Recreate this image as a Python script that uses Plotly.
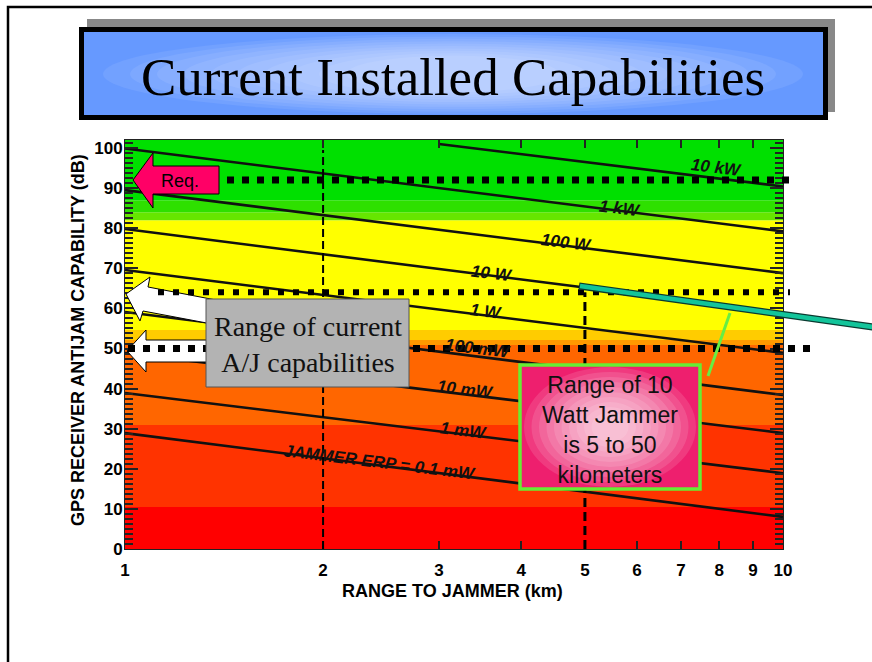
import plotly.graph_objects as go

# ---------------- data ----------------
line_names = ["10 kW", "1 kW", "100 W", "10 W", "1 W", "100 mW", "10 mW", "1 mW",
              "JAMMER ERP = 0.1 mW"]
start_km = [3, 1, 1, 1, 1, 1, 1, 1, 1]
end_km = [10, 10, 10, 10, 10, 10, 10, 10, 10]
start_db = [101.0, 99.9, 89.5, 79.8, 69.6, 59.1, 48.9, 38.9, 28.9]
end_db = [90.4, 79.2, 68.8, 58.9, 48.9, 38.4, 28.9, 18.9, 8.0]

x_ticks = [1, 2, 3, 4, 5, 6, 7, 8, 9, 10]
x_tick_labels = ["1", "2", "3", "4", "5", "6", "7", "8", "9", "10"]
y_ticks = [0, 10, 20, 30, 40, 50, 60, 70, 80, 90, 100]
y_tick_labels = ["0", "10", "20", "30", "40", "50", "60", "70", "80", "90", "100"]

band_lo = [0, 10.5, 30.9, 50.9, 52.1, 54.6, 82, 84, 87]
band_hi = [10.5, 30.9, 50.9, 52.1, 54.6, 82, 84, 87, 102]
band_colors = ["#ff0000", "#ff3300", "#ff6600", "#ff9900", "#ffcc00", "#ffff00",
               "#66e600", "#2ee000", "#00e000"]

required_db = 92
current_hi_db = 64
current_lo_db = 50
range_lo_km = 2
range_10w_km = 5

# ---------------- geometry helpers (pixel -> paper) ----------------
L, R, T, B = 125, 783, 140, 549
W, H = 872, 662


def px(x):
    return (x - L) / (R - L)


def py(y):
    return (B - y) / (B - T)


def path(points):
    s = "M " + " L ".join(f"{px(a):.5f},{py(b):.5f}" for a, b in points) + " Z"
    return s


fig = go.Figure()

for i in range(len(line_names)):
    fig.add_trace(go.Scatter(
        x=[start_km[i], end_km[i]], y=[start_db[i], end_db[i]],
        mode="lines", line=dict(color="#111111", width=2.6),
        name=line_names[i], showlegend=False, hoverinfo="skip"))

shapes = []
# colour bands
for lo, hi, c in zip(band_lo, band_hi, band_colors):
    shapes.append(dict(type="rect", xref="paper", yref="y", x0=0, x1=1, y0=lo, y1=hi,
                       fillcolor=c, line=dict(width=0), layer="below"))

# slide frame
shapes.append(dict(type="path", xref="paper", yref="paper",
                   path=f"M {px(8)},{py(700)} L {px(8)},{py(7)} L {px(900)},{py(7)}",
                   line=dict(color="black", width=2.5)))
# title shadow + box
shapes.append(dict(type="rect", xref="paper", yref="paper", x0=px(87), x1=px(835),
                   y0=py(19), y1=py(112), fillcolor="#888888", line=dict(width=0)))
shapes.append(dict(type="rect", xref="paper", yref="paper", x0=px(81.5), x1=px(825.5),
                   y0=py(29.5), y1=py(117.5), fillcolor="#6699ff",
                   line=dict(color="black", width=5)))
for k in range(10):
    hw = 350 - k * 27
    hh = 40 - k * 2.4
    shapes.append(dict(type="circle", xref="paper", yref="paper",
                       x0=px(453 - hw), x1=px(453 + hw), y0=py(74 - hh), y1=py(74 + hh),
                       fillcolor="white", opacity=0.08, line=dict(width=0)))

# vertical dashed lines
shapes.append(dict(type="line", xref="x", yref="y", x0=range_lo_km, x1=range_lo_km,
                   y0=0, y1=99.5, line=dict(color="black", width=2, dash="8px,4px")))
shapes.append(dict(type="line", xref="x", yref="y", x0=range_10w_km, x1=range_10w_km,
                   y0=0, y1=current_hi_db, line=dict(color="black", width=3, dash="9px,5px")))

# white arrows
shapes.append(dict(type="path", xref="paper", yref="paper",
                   path=path([(126, 294), (150, 277), (148, 287), (216, 300), (212, 324),
                              (143, 311), (140, 321)]),
                   fillcolor="white", line=dict(color="black", width=1)))
shapes.append(dict(type="path", xref="paper", yref="paper",
                   path=path([(127, 351), (146, 330), (146, 340), (216, 340), (216, 362),
                              (146, 362), (146, 372)]),
                   fillcolor="white", line=dict(color="black", width=1)))

# horizontal dotted lines
shapes.append(dict(type="line", xref="paper", yref="y", x0=px(152), x1=px(792),
                   y0=required_db, y1=required_db,
                   line=dict(color="black", width=7, dash="7px,8px")))
shapes.append(dict(type="line", xref="paper", yref="y", x0=px(158), x1=px(790),
                   y0=current_hi_db, y1=current_hi_db,
                   line=dict(color="black", width=6, dash="6px,9px")))
shapes.append(dict(type="line", xref="paper", yref="y", x0=px(128), x1=px(816),
                   y0=current_lo_db, y1=current_lo_db,
                   line=dict(color="black", width=7, dash="7px,8px")))

# Req. arrow
shapes.append(dict(type="path", xref="paper", yref="paper",
                   path=path([(133, 180), (153, 153), (153, 166), (219, 166), (219, 194),
                              (153, 194), (153, 208)]),
                   fillcolor="#ff0066", line=dict(color="black", width=1)))

# grey box
shapes.append(dict(type="rect", xref="paper", yref="paper", x0=px(206), x1=px(409),
                   y0=py(299), y1=py(387), fillcolor="#b3b3b3",
                   line=dict(color="#555555", width=1)))

# pink box with glow
shapes.append(dict(type="rect", xref="paper", yref="paper", x0=px(520), x1=px(700),
                   y0=py(365), y1=py(489), fillcolor="#ee1f6e", line=dict(width=0)))
for k in range(10):
    hw = 86 - k * 7.5
    hh = 60 - k * 5
    shapes.append(dict(type="circle", xref="paper", yref="paper",
                       x0=px(610 - hw), x1=px(610 + hw), y0=py(427 - hh), y1=py(427 + hh),
                       fillcolor="white", opacity=0.12, line=dict(width=0)))
shapes.append(dict(type="rect", xref="paper", yref="paper", x0=px(520), x1=px(700),
                   y0=py(365), y1=py(489), fillcolor="rgba(0,0,0,0)",
                   line=dict(color="#66ee33", width=3.5)))

# teal pointer line + green leader
shapes.append(dict(type="line", xref="paper", yref="paper", x0=px(579), y0=py(286),
                   x1=px(880), y1=py(328), line=dict(color="#0a3a30", width=7)))
shapes.append(dict(type="line", xref="paper", yref="paper", x0=px(580), y0=py(286),
                   x1=px(880), y1=py(328), line=dict(color="#12c49a", width=4.5)))
shapes.append(dict(type="line", xref="paper", yref="paper", x0=px(730), y0=py(313),
                   x1=px(708), y1=py(376), line=dict(color="#66ee44", width=3)))

annotations = []
annotations.append(dict(text="Current Installed Capabilities", xref="paper", yref="paper",
                        x=px(453), y=py(77), showarrow=False, xanchor="center", yanchor="middle",
                        font=dict(family="Liberation Serif", size=53, color="black")))

label_px = [(716, 167), (620, 208), (566, 242), (492, 273), (486, 311), (478, 348),
            (465, 389), (463, 430), (380, 462)]
for name, (lx, ly) in zip(line_names, label_px):
    annotations.append(dict(text=f"<b><i>{name}</i></b>", xref="paper", yref="paper",
                            x=px(lx), y=py(ly), showarrow=False, textangle=7,
                            xanchor="center", yanchor="middle",
                            font=dict(family="Liberation Sans", size=17, color="#111111")))

annotations.append(dict(text="Req.", xref="paper", yref="paper", x=px(180), y=py(181),
                        showarrow=False, xanchor="center", yanchor="middle",
                        font=dict(family="Liberation Sans", size=18, color="black")))
annotations.append(dict(text="Range of current<br>A/J capabilities", xref="paper",
                        yref="paper", x=px(307.5), y=py(344), showarrow=False,
                        xanchor="center", yanchor="middle",
                        font=dict(family="Liberation Serif", size=28, color="#111111")))
annotations.append(dict(text="Range of 10<br>Watt Jammer<br>is 5 to 50<br>kilometers",
                        xref="paper", yref="paper", x=px(610), y=py(430), showarrow=False,
                        xanchor="center", yanchor="middle",
                        font=dict(family="Liberation Sans", size=23, color="#111111")))

annotations.append(dict(text="<b>GPS RECEIVER ANTIJAM CAPABILITY (dB)</b>", xref="paper",
                        yref="paper", x=px(78), y=py(340), showarrow=False, textangle=-90,
                        xanchor="center", yanchor="middle",
                        font=dict(family="Liberation Sans", size=18, color="black")))
annotations.append(dict(text="<b>RANGE TO JAMMER (km)</b>", xref="paper", yref="paper",
                        x=px(452), y=py(591), showarrow=False, xanchor="center",
                        yanchor="middle",
                        font=dict(family="Liberation Sans", size=18, color="black")))

tickfont = dict(family="Liberation Sans", size=17, color="black", weight="bold")

fig.update_layout(
    width=W, height=H,
    margin=dict(l=L, r=W - R, t=T, b=H - B, pad=0),
    paper_bgcolor="white", plot_bgcolor="white",
    showlegend=False,
    shapes=shapes, annotations=annotations,
    xaxis=dict(type="log", range=[0, 1], tickvals=x_ticks, ticktext=x_tick_labels,
               ticks="inside", ticklen=8, tickwidth=2, tickcolor="#222222",
               showline=True, linecolor="#222222", linewidth=1, mirror="ticks",
               showgrid=False, zeroline=False, tickfont=tickfont, ticklabelstandoff=6),
    yaxis=dict(range=[0, 102], tickvals=y_ticks, ticktext=y_tick_labels,
               ticks="inside", ticklen=13, tickwidth=2, tickcolor="#222222",
               showline=True, linecolor="#222222", linewidth=1, mirror="ticks",
               showgrid=False, zeroline=False, tickfont=tickfont, ticklabelstandoff=-2,
               minor=dict(dtick=1.25, ticks="inside", ticklen=8, tickwidth=2,
                          tickcolor="#222222", showgrid=False)),
)

fig.write_html("out.html", config={"displayModeBar": False},
               post_script="document.body.style.margin='0';document.body.style.overflow='hidden';")
